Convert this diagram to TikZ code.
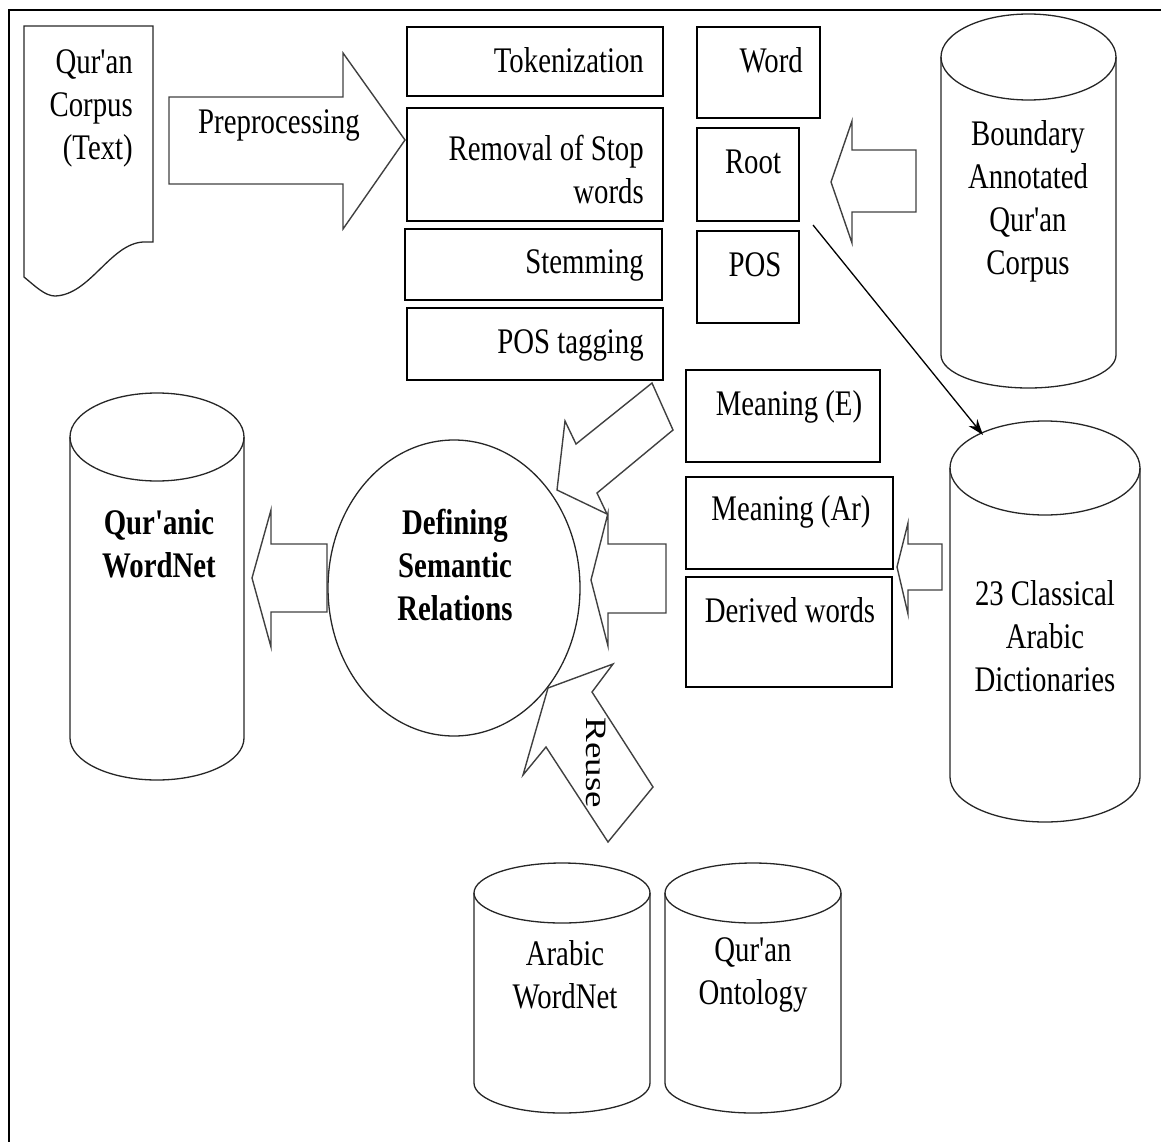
\documentclass[tikz,border=0pt]{standalone}
\usepackage{fontspec}
\setmainfont[FakeStretch=0.8, Ligatures=TeXOff]{Liberation Serif}
\newfontfamily\plainserif[Ligatures=TeXOff]{Liberation Serif}
\usetikzlibrary{arrows.meta,shapes.geometric}
\tikzset{
  box/.style={draw=black, line width=1.8pt, inner sep=0pt},
  blk/.style={draw=black!75, line width=1.4pt, line join=miter},
  cyl/.style={draw=black!85, line width=1.3pt},
  txt/.style={inner sep=0pt, font=\fontsize{36}{43}\selectfont},
  btxt/.style={txt, font=\fontsize{36}{43}\selectfont\bfseries},
}
\newcommand\dbcyl[7]{% name, xl, xr, yt, yb, rytop, rybot
  \pgfmathsetmacro\cxx{(#2+#3)/2}
  \pgfmathsetmacro\rxx{(#3-#2)/2}
  \pgfmathsetmacro\ytc{#4+#6}
  \pgfmathsetmacro\ybc{#5-#7}
  \pgfmathsetmacro\cyy{(#4+#5)/2}
  \pgfmathsetmacro\ww{#3-#2}
  \pgfmathsetmacro\hh{#5-#4}
  \node[inner sep=0pt, minimum width=\ww, minimum height=\hh] (#1) at (\cxx,\cyy) {};
  \draw[cyl] (#2,\ytc) -- (#2,\ybc) arc[start angle=180, end angle=0, x radius=\rxx, y radius=#7] -- (#3,\ytc);
  \draw[cyl] (\cxx,\ytc) ellipse[x radius=\rxx, y radius=#6];
}
\begin{document}
\begin{tikzpicture}[x=1pt,y=-1pt]
\useasboundingbox (0,0) rectangle (1161,1142);
% frame
\draw[line width=2.6pt] (9,1142) -- (9,10) -- (1161,10);

% document: Qur'an Corpus
\draw[cyl] (24,26) -- (153,26) -- (153,242) -- (143,242)
  .. controls (110,244) and (90,295) .. (55,296)
  .. controls (45,296) and (35,286) .. (24,277) -- cycle;
\node[txt, align=right, anchor=east] (corpus) at (133,108) {Qur'an\\Corpus\\(Text)};

% preprocessing arrow
\draw[blk] (169,97) -- (343,97) -- (343,53) -- (405,140) -- (343,229) -- (343,184) -- (169,184) -- cycle;
\node[txt] (prep) at (279,125) {Preprocessing};

% column 1 boxes
\node[box, minimum width=256, minimum height=69] (tok) at (535,61.5) {};
\node[box, minimum width=256, minimum height=113] (rem) at (535,164.5) {};
\node[box, minimum width=257, minimum height=71] (stem) at (533.5,264.5) {};
\node[box, minimum width=256, minimum height=72] (post) at (535,344) {};
\node[txt, anchor=east] at (644,60) {Tokenization};
\node[txt, anchor=east, align=right] at (644,170) {Removal of Stop\\words};
\node[txt, anchor=east] at (644,265) {Stemming};
\node[txt, anchor=east] at (644,345) {POS tagging};

% column 2 boxes
\node[box, minimum width=123, minimum height=91] (word) at (758.5,72.5) {};
\node[box, minimum width=102, minimum height=93] (root) at (748,174.5) {};
\node[box, minimum width=102, minimum height=92] (pos) at (748,277) {};
\node[txt, anchor=east] at (803,60) {Word};
\node[txt] at (753,162) {Root};
\node[txt] at (755,265) {POS};

% meaning boxes
\node[box, minimum width=194, minimum height=92] (me) at (783,416) {};
\node[box, minimum width=207, minimum height=92] (mar) at (789.5,523) {};
\node[box, minimum width=206, minimum height=110] (der) at (789,632) {};
\node[txt] at (789,407) {Meaning (E)};
\node[txt] at (791,512) {Meaning (Ar)};
\node[txt] at (790,610) {Derived words};

% cylinders
\dbcyl{bac}{941}{1116}{14}{388}{43}{33}
\node[txt, align=center] at (1028,201) {Boundary\\Annotated\\Qur'an\\Corpus};
\dbcyl{qwn}{70}{244}{393}{780}{44}{42}
\node[btxt, align=center] at (159,544) {Qur'anic\\WordNet};
\dbcyl{dict}{950}{1140}{421}{822}{47}{45}
\node[txt, align=center] at (1045,636) {23 Classical\\Arabic\\Dictionaries};
\dbcyl{awn}{474}{650}{863}{1113}{30}{30}
\node[txt, align=center] at (565,975) {Arabic\\WordNet};
\dbcyl{qon}{665}{841}{863}{1113}{30}{30}
\node[txt, align=center] at (753,975) {Qur'an\\Ontology};

% central ellipse
\node[draw=black!85, line width=1.3pt, ellipse, minimum width=252, minimum height=296, inner sep=0pt] (dsr) at (454,588) {};
\node[btxt, align=center] at (455,565) {Defining\\Semantic\\Relations};

% block arrows
\draw[blk] (916,150) -- (852,150) -- (852,121) -- (831,182) -- (852,243) -- (852,212) -- (916,212) -- cycle;
\draw[blk] (666,544) -- (608,544) -- (608,513) -- (591,580) -- (608,646) -- (608,613) -- (666,613) -- cycle;
\draw[blk] (942,544) -- (908,544) -- (908,523) -- (897,567) -- (908,614) -- (908,590) -- (942,590) -- cycle;
\draw[blk] (327,544) -- (271,544) -- (271,510) -- (252,578) -- (271,647) -- (271,612) -- (327,612) -- cycle;
\draw[blk] (652,383) -- (576,444) -- (565,421) -- (557,490) -- (607,514) -- (597,493) -- (673,430) -- cycle;
\draw[blk] (548,688) -- (613,664) -- (592,692) -- (653,787) -- (608,842) -- (546,747) -- (523,775) -- cycle;
\node[inner sep=0pt, rotate=-90, font=\plainserif\fontsize{37}{43}\selectfont] (reuse) at (596,763) {\scalebox{1}[0.8]{Reuse}};

% line arrow root -> dictionaries
\coordinate (rootout) at (813,225);
\coordinate (dictin) at (983,435);
\draw[line width=1.3pt, -{Stealth[length=16pt,width=11pt]}] (rootout) -- (dictin);
\end{tikzpicture}
\end{document}
